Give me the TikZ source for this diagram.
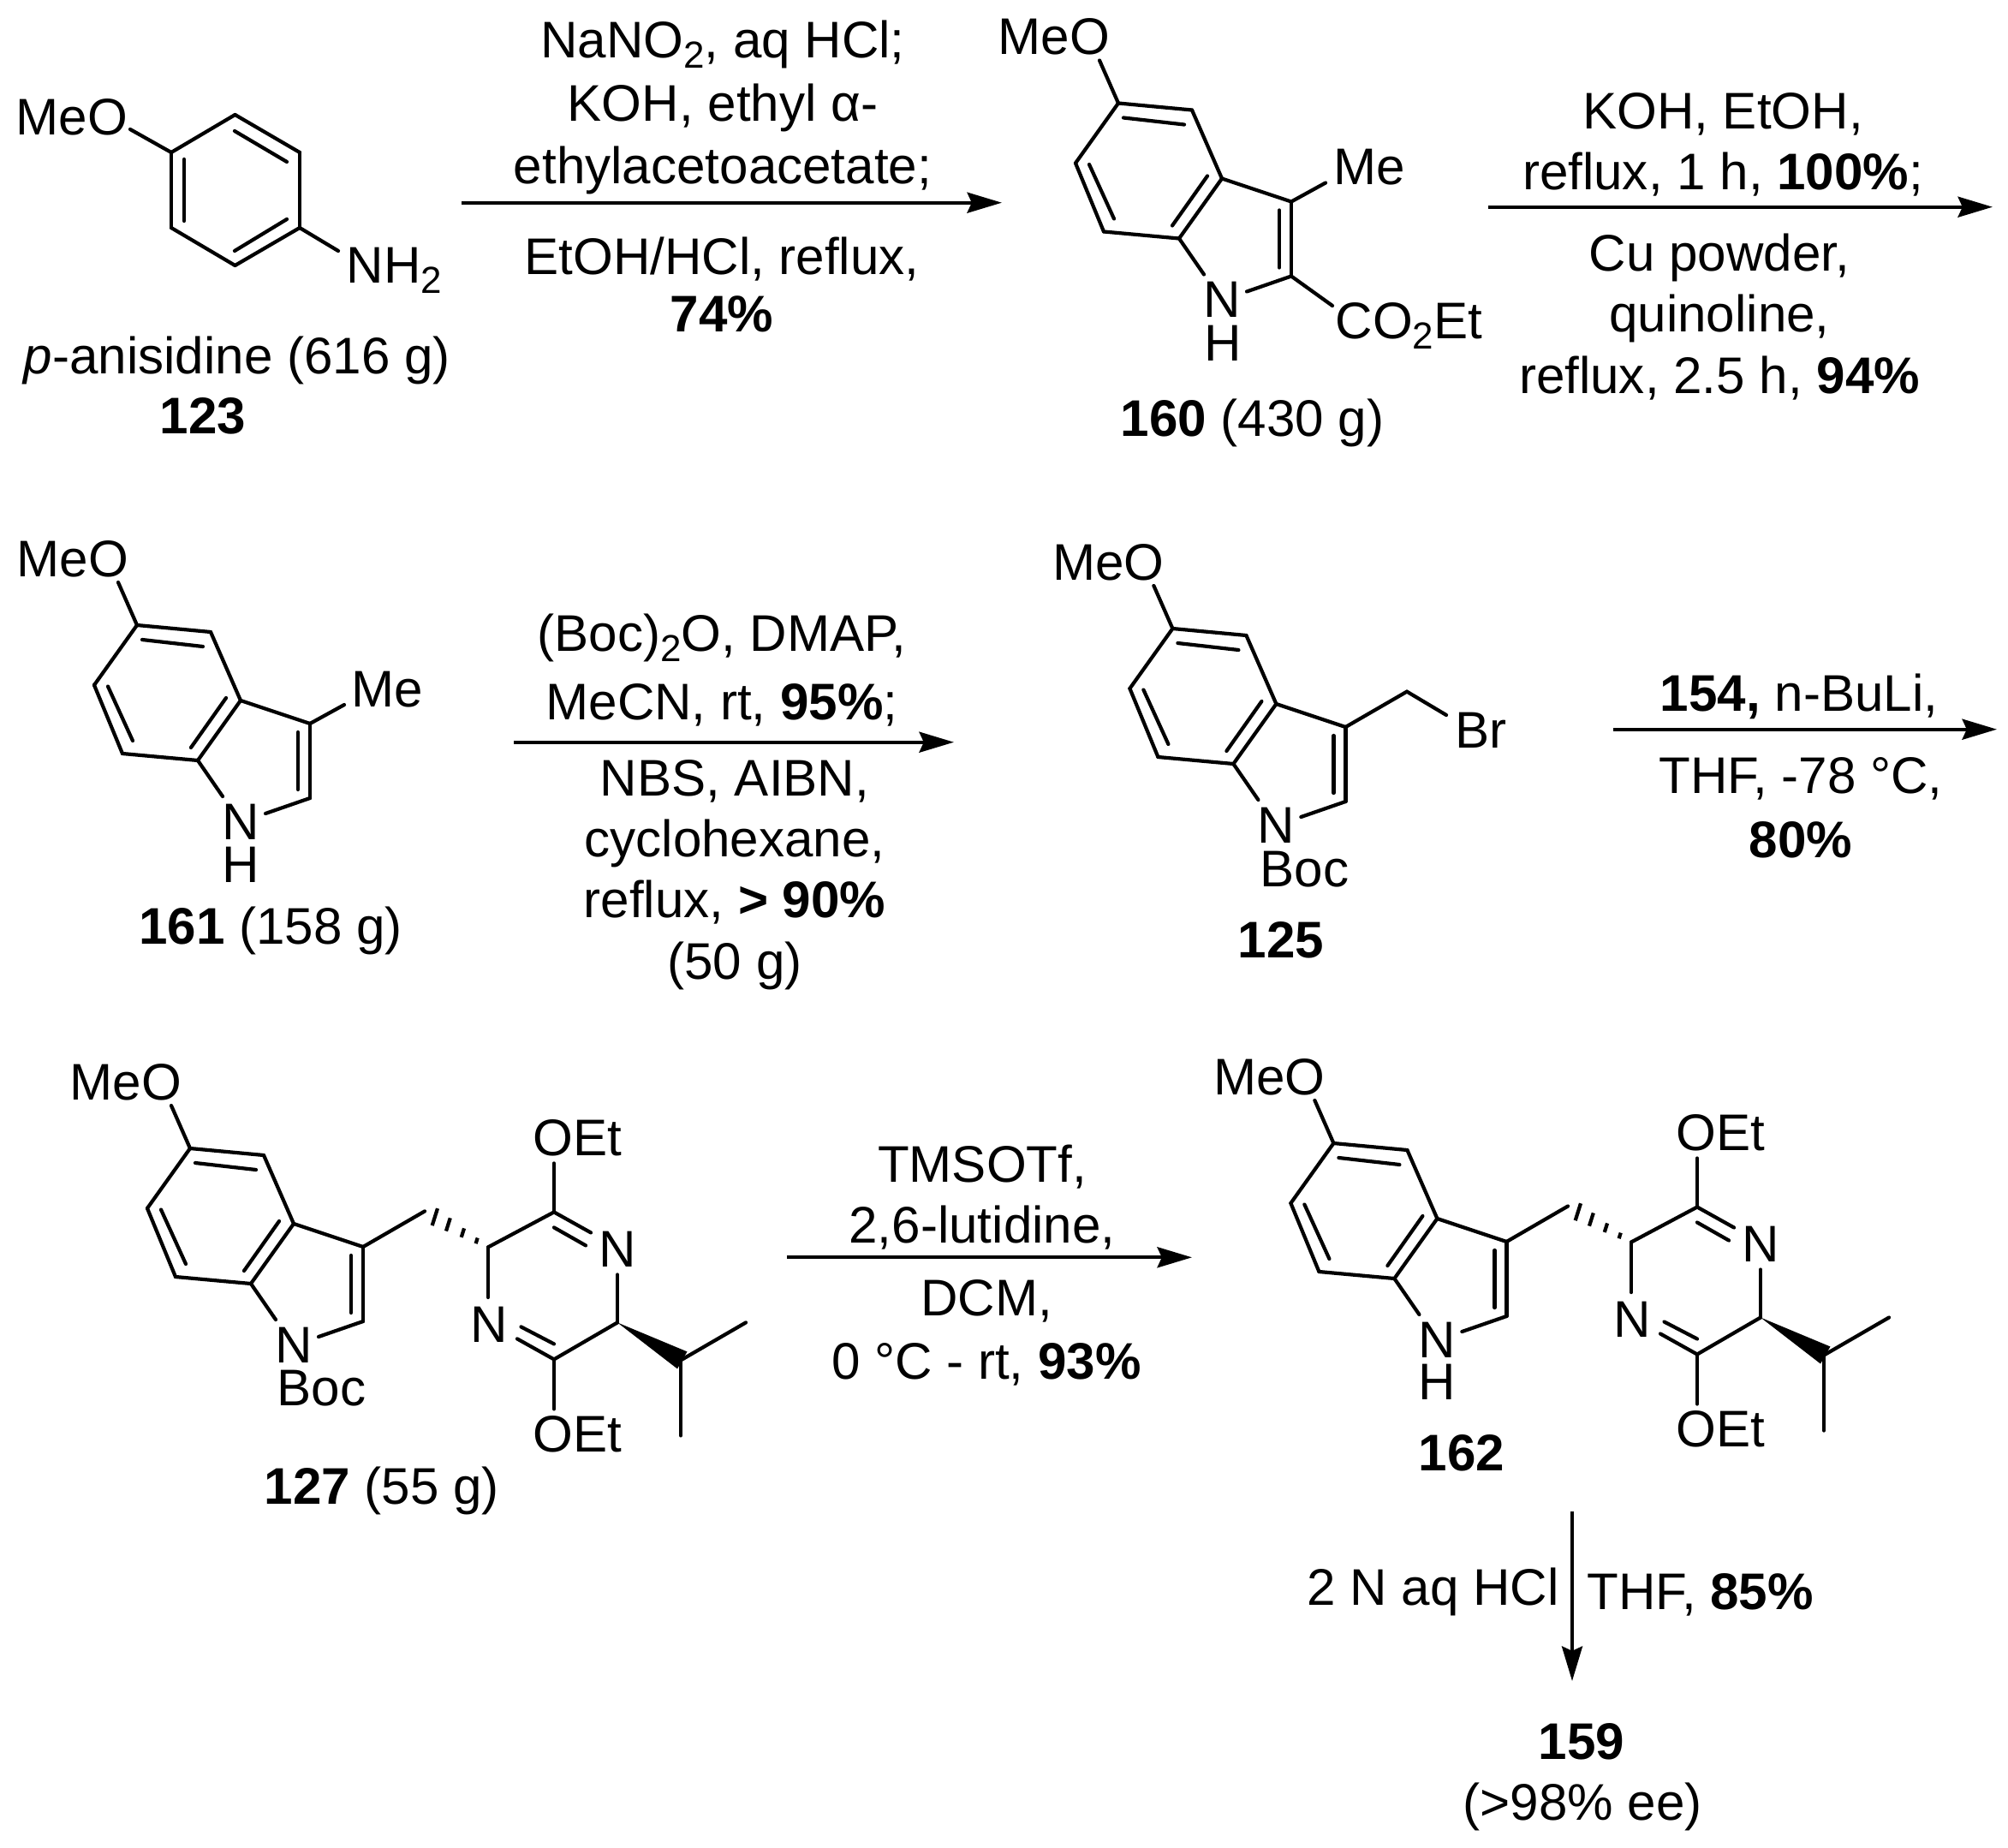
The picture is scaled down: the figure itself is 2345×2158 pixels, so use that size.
\documentclass[tikz,border=0pt]{standalone}
\usepackage{fontspec}
\setmainfont{Liberation Sans}
\usetikzlibrary{arrows.meta}

\newcommand{\chemsub}[1]{\raisebox{-3.4pt}{\fontsize{12.5}{12}\selectfont #1}}

\tikzset{
  bond/.style={line width=1.2pt,line cap=round},
  rxn/.style={line width=1.2pt,-{Stealth[length=11.5pt,width=6.8pt,inset=1.5pt]}},
  atom/.style={inner sep=0pt,anchor=base},
  lab/.style={inner sep=0pt,anchor=base west,xshift=-0.03cm},
  reagent/.style={inner sep=0pt,anchor=base,align=center},
  indole/.pic={
    \coordinate (-c5) at (0,0);
    \coordinate (-c4) at (86,8);
    \coordinate (-c3a) at (121,88);
    \coordinate (-c7a) at (71,158);
    \coordinate (-c7) at (-17,150);
    \coordinate (-c6) at (-50,70);
    \coordinate (-c3) at (202,115);
    \coordinate (-c2) at (202,202);
    \coordinate (-nt) at (100,200);
    \coordinate (-ns) at (150,220);
    \coordinate (-ot) at (-22,-50);
    \coordinate (-d1) at (6,17);
    \coordinate (-d2) at (77,25);
    \coordinate (-d3) at (-34,71.5);
    \coordinate (-d4) at (-5,135);
    \coordinate (-d5) at (104,85);
    \coordinate (-d6) at (63,143);
    \coordinate (-d7) at (188,125);
    \coordinate (-d8) at (188,192);
    \node[lab] (-meo) at (-138,-57) {MeO};
    \node[atom] (-n) at (121,250) {N};
    \foreach \from/\to in {-c5/-c4, -c4/-c3a, -c3a/-c7a, -c7a/-c7, -c7/-c6, -c6/-c5, -c3a/-c3, -c3/-c2, -c7a/-nt, -c2/-ns, -c5/-ot, -d1/-d2, -d3/-d4, -d5/-d6, -d7/-d8}
      \draw[bond] (\from) -- (\to);
  },
  pyrazine/.pic={
    \coordinate (-cs) at (0,0);
    \coordinate (-ch2) at (-74,-42);
    \coordinate (-ca) at (77,-41);
    \coordinate (-na) at (120,-17);
    \coordinate (-cb) at (151,88);
    \coordinate (-nb) at (151,32);
    \coordinate (-cc) at (77,131);
    \coordinate (-nc) at (34,107);
    \coordinate (-nd) at (0,58.6);
    \coordinate (-d1) at (77,-23);
    \coordinate (-d2) at (114,-2);
    \coordinate (-d3) at (77,113);
    \coordinate (-d4) at (38.5,93);
    \coordinate (-oa) at (77,-98);
    \coordinate (-ob) at (77,189);
    \coordinate (-ip) at (225,132);
    \coordinate (-me1) at (301,88);
    \coordinate (-me2) at (225,220);
    \node[atom] (-nr) at (151,23) {N};
    \node[atom] (-nl) at (1,110.6) {N};
    \node[lab] (-oet1) at (55,-107) {OEt};
    \node[lab] (-oet2) at (55,239) {OEt};
    \foreach \from/\to in {-cs/-ca, -ca/-na, -d1/-d2, -nb/-cb, -cb/-cc, -cc/-nc, -d3/-d4, -cs/-nd, -ca/-oa, -cc/-ob, -ip/-me1, -ip/-me2}
      \draw[bond] (\from) -- (\to);
    % wedge and hashes
    \fill (-cb) -- (232.5,122) -- (221,142) -- cycle;
    \foreach \t/\h in {.18/3.5, .4/5.5, .63/8, .84/10.5}
      \draw[line width=1.2pt] ({-74*\t+.3*\h},{-42*\t-.95*\h}) -- ({-74*\t-.3*\h},{-42*\t+.95*\h});
  }
}

\begin{document}
\begin{tikzpicture}[x=0.01cm,y=-0.01cm,font=\fontsize{17.1}{20.2}\selectfont]
  \useasboundingbox (0,0) rectangle (2345,2158);

  % p-anisidine
  \coordinate (b1) at (274.5,134);
  \coordinate (b2) at (350,178);
  \coordinate (b3) at (350,266);
  \coordinate (b4) at (274.5,310);
  \coordinate (b5) at (200,266);
  \coordinate (b6) at (200,178);
  \coordinate (bo) at (152,151);
  \coordinate (bn) at (395,293);
  \coordinate (bd1) at (215,186);
  \coordinate (bd2) at (215,258);
  \coordinate (bd3) at (274,153);
  \coordinate (bd4) at (335,189);
  \coordinate (bd5) at (335,256);
  \coordinate (bd6) at (274,293);
  \foreach \from/\to in {b1/b2, b2/b3, b3/b4, b4/b5, b5/b6, b6/b1, b6/bo, b3/bn, bd1/bd2, bd3/bd4, bd5/bd6}
    \draw[bond] (\from) -- (\to);
  \node[lab] (meo123) at (21,158) {MeO};
  \node[lab] (nh2) at (407,331) {NH\chemsub{2}};
  \node[lab] (name123) at (30,437) {\textit{p}-anisidine (616 g)};
  \node[atom] (n123) at (237,507) {\textbf{123}};

  % indole 160
  \pic (i160) at (1306,120.5) {indole};
  \coordinate (me160) at (1548,213.5);
  \coordinate (es160) at (1556,357);
  \draw[bond] (i160-c3) -- (me160);
  \draw[bond] (i160-c2) -- (es160);
  \node[lab] (lme160) at (1560,216) {Me};
  \node[lab] (co2et) at (1562,396) {CO\chemsub{2}Et};
  \node[atom] (h160) at (1428,422) {H};
  \node[lab] (n160) at (1311,510) {\textbf{160} (430 g)};

  % indole 161
  \pic (i161) at (160,730) {indole};
  \coordinate (me161) at (402,823);
  \draw[bond] (i161-c3) -- (me161);
  \node[lab] (lme161) at (413,825.6) {Me};
  \node[atom] (h161) at (281,1030) {H};
  \node[lab] (n161) at (164.6,1102) {\textbf{161} (158 g)};

  % bromide 125
  \pic (i125) at (1369.4,734) {indole};
  \coordinate (ch125) at (1643,807.6);
  \coordinate (br125) at (1689,835);
  \draw[bond] (i125-c3) -- (ch125);
  \draw[bond] (ch125) -- (br125);
  \node[lab] (lbr) at (1702,873) {Br};
  \node[lab] (boc125) at (1474,1035.6) {Boc};
  \node[atom] (n125) at (1496,1118) {\textbf{125}};

  % 127
  \pic (i127) at (222,1341) {indole};
  \pic (p127) at (570,1456.4) {pyrazine};
  \draw[bond] (i127-c3) -- (p127-ch2);
  \node[lab] (boc127) at (326,1641) {Boc};
  \node[lab] (n127) at (311,1756) {\textbf{127} (55 g)};

  % 162
  \pic (i162) at (1557.4,1335) {indole};
  \pic (p162) at (1905,1450.5) {pyrazine};
  \draw[bond] (i162-c3) -- (p162-ch2);
  \node[atom] (h162) at (1678,1634) {H};
  \node[atom] (n162) at (1707,1717.4) {\textbf{162}};

  % product
  \node[atom] (n159) at (1847,2054) {\textbf{159}};
  \node[atom] (ee159) at (1848,2125) {(>98\% ee)};

  % arrows
  \coordinate (a1) at (539,236.7);
  \coordinate (a2) at (1170,236.7);
  \coordinate (c1) at (1738,241.7);
  \coordinate (c2) at (2327,241.7);
  \coordinate (d1) at (600,866.7);
  \coordinate (d2) at (1114,866.7);
  \coordinate (e1) at (1884,851.7);
  \coordinate (e2) at (2332,851.7);
  \coordinate (f1) at (919,1468.3);
  \coordinate (f2) at (1392,1468.3);
  \coordinate (g1) at (1836,1765);
  \coordinate (g2) at (1836,1963);
  \foreach \from/\to in {a1/a2, c1/c2, d1/d2, e1/e2, f1/f2, g1/g2}
    \draw[rxn] (\from) -- (\to);

  % reagents
  \node[reagent] (r1) at (844,215) {NaNO\chemsub{2}, aq HCl;\\[0.7pt] KOH, ethyl α-\\[0.7pt] ethylacetoacetate;};
  \node[reagent] (r1b) at (843,388) {EtOH/HCl, reflux,\\[-0.9pt] \textbf{74\%}};
  \node[reagent] (r2) at (2012,222) {KOH, EtOH,\\ reflux, 1 h, \textbf{100\%};};
  \node[reagent] (r2b) at (2008,459) {Cu powder,\\ quinoline,\\ reflux, 2.5 h, \textbf{94\%}};
  \node[reagent] (r3) at (843,840) {(Boc)\chemsub{2}O, DMAP,\\[2.3pt] MeCN, rt, \textbf{95\%};};
  \node[reagent] (r3b) at (858,1143) {NBS, AIBN,\\ cyclohexane,\\ reflux, \textbf{> 90\%}\\ (50 g)};
  \node[reagent] (r4) at (2101,830.7) {\textbf{154,} n-BuLi,};
  \node[reagent] (r4b) at (2103,1001.7) {THF, -78 °C,\\[1.1pt] \textbf{80\%}};
  \node[reagent] (r5) at (1147,1451.7) {TMSOTf,\\ 2,6-lutidine,};
  \node[reagent] (r5b) at (1152,1610.7) {DCM,\\[0.8pt] 0 °C - rt, \textbf{93\%}};
  \node[lab] (r6) at (1529,1874) {2 N aq HCl};
  \node[lab] (r6b) at (1856,1879) {THF, \textbf{85\%}};
\end{tikzpicture}
\end{document}
